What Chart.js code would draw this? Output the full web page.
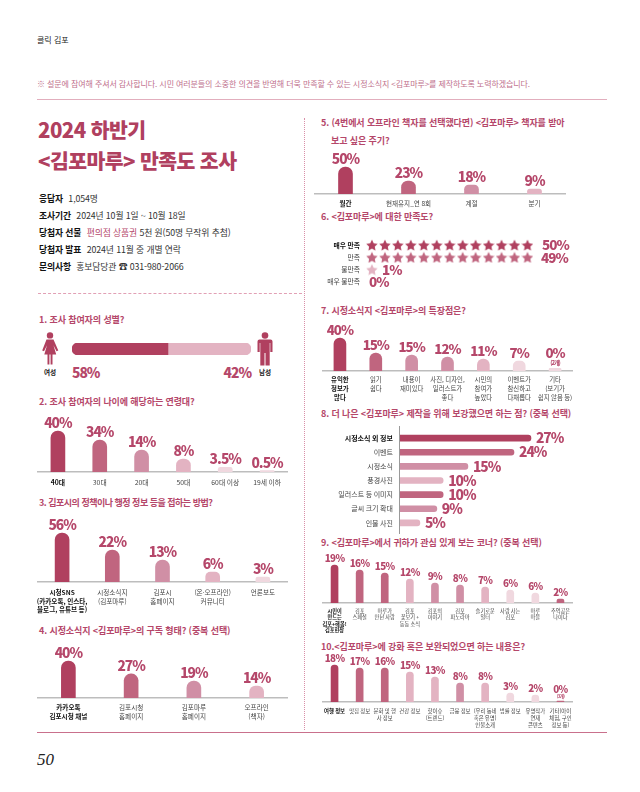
<!DOCTYPE html>
<html lang="ko">
<head>
<meta charset="utf-8">
<title>2024 하반기 김포마루 만족도 조사</title>
<script src="https://cdn.jsdelivr.net/npm/chart.js@4"></script>
<style>
  html, body { margin: 0; padding: 0; background: #fff; }
  #page { position: relative; width: 640px; height: 792px; overflow: hidden;
    font-family: "Noto Sans CJK KR", "Noto Sans", sans-serif; color: #333; }
  #page > * { position: absolute; }
  .t { white-space: nowrap; line-height: 1; }
  .q { font-size: 9px; font-weight: 700; color: #b5476a; letter-spacing: -0.1px; }
  .h1 { font-size: 20.5px; font-weight: 900; color: #b0405f; letter-spacing: -0.6px; }
  .info { font-size: 8.8px; color: #333; letter-spacing: -0.1px; }
  .info b { color: #111; margin-right: 3px; }
  .info em { font-style: normal; color: #b5476a; }
  .pct { font-size: 13.8px; font-weight: 900; color: #b5476a; letter-spacing: -1px; }
  .small { font-size: 6.6px; color: #222; font-weight: 700; transform: translateX(-50%); }
  canvas { display: block; }
</style>
</head>
<body>
<div id="page">
  <div class="t" style="left:37px;top:36px;font-size:8px;color:#222">클릭 김포</div>
  <div class="t" style="left:37px;top:80px;font-size:8px;color:#c0708c;letter-spacing:-0.1px">※ 설문에 참여해 주셔서 감사합니다. 시민 여러분들의 소중한 의견을 반영해 더욱 만족할 수 있는 시정소식지 &lt;김포마루&gt;를 제작하도록 노력하겠습니다.</div>
  <div style="left:37px;top:99px;width:570px;height:1px;background:#e2aebd"></div>

  <div class="t h1" style="left:38px;top:119px">2024 하반기</div>
  <div class="t h1" style="left:38px;top:150px">&lt;김포마루&gt; 만족도 조사</div>

  <div class="t info" style="left:39px;top:195px"><b>응답자</b> 1,054명</div>
  <div class="t info" style="left:39px;top:212px"><b>조사기간</b> 2024년 10월 1일 ~ 10월 18일</div>
  <div class="t info" style="left:39px;top:229px"><b>당첨자 선물</b> <em>편의점 상품권</em> 5천 원(50명 무작위 추첨)</div>
  <div class="t info" style="left:39px;top:246px"><b>당첨자 발표</b> 2024년 11월 중 개별 연락</div>
  <div class="t info" style="left:39px;top:263px"><b>문의사항</b> 홍보담당관 ☎ 031-980-2066</div>

  <div style="left:38px;top:293px;width:264px;border-top:1px dashed #e2a0b5"></div>
  <div style="left:304px;top:118px;height:612px;border-left:1px dotted #d98fa8"></div>
  <div style="left:37px;top:732px;width:570px;height:1px;background:#c9708c"></div>
  <div class="t" style="left:37px;top:750px;font:italic 17px 'Liberation Serif',serif;color:#222">50</div>

  <div class="t q" style="left:39px;top:315px">1. 조사 참여자의 성별?</div>
  <div class="t q" style="left:39px;top:397px">2. 조사 참여자의 나이에 해당하는 연령대?</div>
  <div class="t q" style="left:39px;top:498px;letter-spacing:-0.5px">3. 김포시의 정책이나 행정 정보 등을 접하는 방법?</div>
  <div class="t q" style="left:39px;top:626px">4. 시정소식지 &lt;김포마루&gt;의 구독 형태? (중복 선택)</div>
  <div class="t q" style="left:321px;top:118px">5. (4번에서 오프라인 책자를 선택했다면) &lt;김포마루&gt; 책자를 받아</div>
  <div class="t q" style="left:331px;top:136px">보고 싶은 주기?</div>
  <div class="t q" style="left:321px;top:212px">6. &lt;김포마루&gt;에 대한 만족도?</div>
  <div class="t q" style="left:321px;top:306px">7. 시정소식지 &lt;김포마루&gt;의 특장점은?</div>
  <div class="t q" style="left:321px;top:409px">8. 더 나은 &lt;김포마루&gt; 제작을 위해 보강했으면 하는 점? (중복 선택)</div>
  <div class="t q" style="left:321px;top:538px">9. &lt;김포마루&gt;에서 귀하가 관심 있게 보는 코너? (중복 선택)</div>
  <div class="t q" style="left:321px;top:642px">10.&lt;김포마루&gt;에 강화 혹은 보완되었으면 하는 내용은?</div>

  <!-- gender icons -->
  <svg style="left:41px;top:332px" width="18" height="33" viewBox="0 0 18 33" fill="#b0405f">
    <circle cx="9" cy="3.4" r="3.2"/>
    <path d="M5.5 7.5h7l4.8 11-1.8.8-3-6 2.7 9.2H11.5V32.500H9.6V22.500H8.400V32.500H6.500V22.500H3.300L6 13.300l-3 6-1.800-.8z"/>
  </svg>
  <svg style="left:257px;top:332px" width="16" height="34" viewBox="0 0 16 34" fill="#b0405f">
    <circle cx="8" cy="3.500" r="3.300"/>
    <path d="M2.500 7.500h11q2 0 2 2V20h-2.200V11h-.6v22.500H8.500V21h-1v12.500H3.300V11h-.6v9H.5V9.500q0-2 2-2z"/>
  </svg>
  <div class="t small" style="left:50px;top:369px">여성</div>
  <div class="t small" style="left:265px;top:369px">남성</div>
  <div class="t pct" id="q1Left" style="left:72px;top:366px"></div>
  <div class="t pct" id="q1Right" style="right:389px;top:366px"></div>

  <div style="left:72px;top:343px;width:179px;height:12px"><canvas id="q1"></canvas></div>
  <div style="left:37px;top:410px;width:251px;height:86px"><canvas id="q2"></canvas></div>
  <div style="left:37px;top:512px;width:251px;height:106px"><canvas id="q3"></canvas></div>
  <div style="left:37px;top:638px;width:251px;height:86px"><canvas id="q4"></canvas></div>
  <div style="left:314px;top:146px;width:252px;height:66px"><canvas id="q5"></canvas></div>
  <div style="left:310px;top:232px;width:300px;height:63px"><canvas id="q6"></canvas></div>
  <div style="left:322px;top:316px;width:251px;height:90px"><canvas id="q7"></canvas></div>
  <div style="left:310px;top:426px;width:300px;height:108px"><canvas id="q8"></canvas></div>
  <div style="left:322px;top:553px;width:251px;height:84px"><canvas id="q9"></canvas></div>
  <div style="left:322px;top:652px;width:251px;height:78px"><canvas id="q10"></canvas></div>
</div>

<script>
/* global Chart */
// Printed percentages are the *Pct arrays. The magazine's bars are not drawn
// to true scale, so *Bars holds each bar's length,
// in units of the axis.

const DARK = "#b0405f";
const MID = "#c0657f";
const SOFT = "#d08fa5";
const PALE = "#e3b3c2";
const FAINT = "#f0d8df";
const FONT = '"Noto Sans CJK KR", "Noto Sans", sans-serif';

const q1Pct = [58, 42];
const q1Bars = [53.6, 46.4];

const q2Labels = ["40대", "30대", "20대", "50대", "60대 이상", "19세 이하"];
const q2Pct = ["40%", "34%", "14%", "8%", "3.5%", "0.5%"];
const q2Bars = [40, 31.2, 21.5, 12.7, 4.6, 1.3];

const q3Labels = [
  ["시청SNS", "(카카오톡, 인스타,", "블로그, 유튜브 등)"],
  ["시정소식지", "(김포마루)"],
  ["김포시", "홈페이지"],
  ["(온·오프라인)", "커뮤니티"],
  ["언론보도"],
];
const q3Pct = ["56%", "22%", "13%", "6%", "3%"];
const q3Bars = [56, 36.6, 25, 11.4, 5.7];

const q4Labels = [
  ["카카오톡", "김포시청 채널"],
  ["김포시청", "홈페이지"],
  ["김포마루", "홈페이지"],
  ["오프라인", "(책자)"],
];
const q4Pct = ["40%", "27%", "19%", "14%"];
const q4Bars = [40, 26, 18.4, 13];

const q5Labels = ["월간", "현재유지_연 8회", "계절", "분기"];
const q5Pct = ["50%", "23%", "18%", "9%"];
const q5Bars = [50, 24, 16.7, 9.3];

const q6Labels = ["매우 만족", "만족", "불만족", "매우 불만족"];
const q6Pct = ["50%", "49%", "1%", "0%"];
const q6Stars = [13, 13, 1, 0];

const q7Labels = [
  ["유익한", "정보가", "많다"],
  ["읽기", "쉽다"],
  ["내용이", "재미있다"],
  ["사진, 디자인,", "일러스트가", "좋다"],
  ["시민의", "참여가", "높았다"],
  ["이벤트가", "참신하고", "다채롭다"],
  ["기타", "(보기가", "쉽지 않음 등)"],
];
const q7Pct = ["40%", "15%", "15%", "12%", "11%", "7%", ["0%", "(2개)"]];
const q7Bars = [40, 21.8, 19.4, 17, 14.5, 12.1, 3.2];

const q8Labels = ["시정소식 외 정보", "이벤트", "시정소식", "풍경사진", "일러스트 등 이미지", "글씨 크기 확대", "인물 사진"];
const q8Pct = ["27%", "24%", "15%", "10%", "10%", "9%", "5%"];
const q8Bars = [27, 23.5, 14, 8.9, 8.9, 7.6, 4.1];

const q9Labels = [
  ["시민이", "만드는", "김포+해봄!", "김포현장"],
  ["김포", "스페셜"],
  ["마루가", "만난 사람"],
  ["김포", "꽃보기 +", "동동 소식"],
  ["김포의", "이야기"],
  ["김포", "파노라마"],
  ["슬기로운", "일터"],
  ["사람 사는", "김포"],
  ["마루", "마블"],
  ["추억공은", "나이다"],
];
const q9Pct = ["19%", "16%", "15%", "12%", "9%", "8%", "7%", "6%", "6%", "2%"];
const q9Bars = [19, 16.5, 15, 12, 10, 9, 8, 6.5, 5, 2];

const q10Labels = [
  "여행 정보",
  "맛집 정보",
  ["문화 및 행", "사 정보"],
  "건강 정보",
  ["핫이슈", "(트렌드)"],
  "금융 정보",
  ["(우리 동네", "혹은 유명)", "인물소개"],
  "법률 정보",
  ["유명작가", "연재", "콘텐츠"],
  ["기타(아이", "체험, 구인", "정보 등)"],
];
const q10Pct = ["18%", "17%", "16%", "15%", "13%", "8%", "8%", "3%", "2%", ["0%", "(3개)"]];
const q10Bars = [18, 16.5, 16.5, 14.6, 12.2, 9.2, 9.2, 4.4, 3.4, 0.5];

// Shared bits
const noGrid = () => ({ grid: { display: false, drawTicks: false }, border: { display: false } });
const noPadding = (scale) => {
  scale.paddingLeft = 0;
  scale.paddingRight = 0;
  scale.paddingTop = 0;
  scale.paddingBottom = 0;
};
const base = () => ({
  responsive: true,
  maintainAspectRatio: false,
  animation: false,
  events: [],
  layout: { padding: 0 },
  plugins: { legend: { display: false }, tooltip: { enabled: false }, title: { display: false } },
});

// Draws the printed percentage just past the end of each bar
const valueLabels = (texts, size) => ({
  id: "valueLabels",
  afterDatasetsDraw(chart) {
    const { ctx } = chart;
    const horizontal = chart.options.indexAxis === "y";
    ctx.save();
    ctx.fillStyle = "#b5476a";
    ctx.letterSpacing = size > 12 ? "-1px" : "-0.6px";
    chart.getDatasetMeta(0).data.forEach((el, i) => {
      const lines = [].concat(texts[i]);
      const main = `900 ${size}px ${FONT}`;
      if (horizontal) {
        ctx.font = main;
        ctx.textAlign = "left";
        ctx.textBaseline = "middle";
        ctx.fillText(lines[0], el.x + 5, el.y);
        return;
      }
      ctx.textAlign = "center";
      ctx.textBaseline = "alphabetic";
      if (lines.length > 1) {
        ctx.font = `700 ${size * 0.45}px ${FONT}`;
        ctx.fillText(lines[1], el.x, el.y - 3);
        ctx.font = main;
        ctx.fillText(lines[0], el.x, el.y - 3 - size * 0.55);
      } else {
        ctx.font = main;
        ctx.fillText(lines[0], el.x, el.y - 3);
      }
    });
    ctx.restore();
  },
});

function columnChart(id, labels, bars, pct, colors, s) {
  const canvas = document.getElementById(id);
  const plotH = canvas.parentElement.clientHeight - s.axisH;
  new Chart(canvas, {
    type: "bar",
    data: {
      labels,
      datasets: [{
        data: bars,
        backgroundColor: colors,
        barThickness: s.barW,
        borderRadius: s.barW / 2,
        borderSkipped: "bottom",
      }],
    },
    options: {
      ...base(),
      scales: {
        y: { ...noGrid(), display: false, min: 0, max: plotH / s.pxPerUnit },
        x: {
          grid: { display: false, drawTicks: false },
          border: { display: true, color: "#bdbdbd", width: 1.5 },
          afterFit: (scale) => { scale.height = s.axisH; noPadding(scale); },
          ticks: {
            autoSkip: false,
            maxRotation: 0,
            minRotation: 0,
            padding: s.tickPad,
            color: (c) => (c.index === 0 ? "#111" : "#444"),
            font: (c) => ({
              family: FONT,
              size: s.tickSize,
              weight: c.index === 0 ? "700" : "400",
              lineHeight: s.tickLine,
            }),
          },
        },
      },
    },
    plugins: [valueLabels(pct, s.pctSize)],
  });
}

function initGenderBar() {
  document.getElementById("q1Left").textContent = `${q1Pct[0]}%`;
  document.getElementById("q1Right").textContent = `${q1Pct[1]}%`;
  new Chart(document.getElementById("q1"), {
    type: "bar",
    data: {
      labels: ["성별"],
      datasets: [
        { label: "여성", data: [q1Bars[0]], backgroundColor: DARK, borderSkipped: false,
          borderRadius: { topLeft: 6, bottomLeft: 6, topRight: 0, bottomRight: 0 } },
        { label: "남성", data: [q1Bars[1]], backgroundColor: PALE, borderSkipped: false,
          borderRadius: { topLeft: 0, bottomLeft: 0, topRight: 6, bottomRight: 6 } },
      ],
    },
    options: {
      ...base(),
      indexAxis: "y",
      datasets: { bar: { barPercentage: 1, categoryPercentage: 1 } },
      scales: {
        x: { display: false, stacked: true, min: 0, max: 100 },
        y: { display: false, stacked: true },
      },
    },
  });
}

// Five-point star as a canvas, used as the point style
function starImage(color, size) {
  const c = document.createElement("canvas");
  c.width = size;
  c.height = size;
  const g = c.getContext("2d");
  const r = size / 2;
  g.fillStyle = color;
  g.beginPath();
  for (let i = 0; i < 10; i++) {
    const rad = i % 2 ? r * 0.5 : r;
    const a = -Math.PI / 2 + (i * Math.PI) / 5;
    g.lineTo(r + rad * Math.cos(a), r + 0.6 + rad * Math.sin(a));
  }
  g.closePath();
  g.fill();
  return c;
}

function initStars() {
  const images = [starImage(DARK, 12), starImage(MID, 12), starImage(PALE, 12), starImage(PALE, 12)];
  const points = [];
  q6Stars.forEach((n, row) => {
    for (let i = 0; i < n; i++) points.push({ x: i, y: q6Labels[row], row });
  });
  const textLeft = [542, 541, 382, 369];
  new Chart(document.getElementById("q6"), {
    type: "scatter",
    data: {
      datasets: [{
        data: points,
        pointStyle: (c) => images[c.raw ? c.raw.row : 0],
        pointRadius: 6,
      }],
    },
    options: {
      ...base(),
      scales: {
        x: { display: false, min: -0.92, max: 17.83 },
        y: {
          type: "category",
          labels: q6Labels,
          offset: true,
          ...noGrid(),
          afterFit: (scale) => { scale.width = 50; noPadding(scale); },
          ticks: {
            autoSkip: false,
            padding: 0,
            color: (c) => (c.index === 0 ? "#111" : "#444"),
            font: (c) => ({ family: FONT, size: 6.8, weight: c.index === 0 ? "700" : "400" }),
          },
        },
      },
    },
    plugins: [{
      id: "starPct",
      afterDatasetsDraw(chart) {
        const { ctx, scales } = chart;
        ctx.save();
        ctx.fillStyle = "#b5476a";
        ctx.letterSpacing = "-1px";
        ctx.font = `900 13.5px ${FONT}`;
        ctx.textBaseline = "middle";
        q6Pct.forEach((t, i) => {
          ctx.fillText(t, textLeft[i] - 310, scales.y.getPixelForValue(i));
        });
        ctx.restore();
      },
    }],
  });
}

function initWishBars() {
  new Chart(document.getElementById("q8"), {
    type: "bar",
    data: {
      labels: q8Labels,
      datasets: [{
        data: q8Bars,
        backgroundColor: [DARK, MID, SOFT, PALE, MID, SOFT, PALE],
        barThickness: 6,
        borderRadius: 3,
        borderSkipped: "left",
      }],
    },
    options: {
      ...base(),
      indexAxis: "y",
      layout: { padding: { top: 5, bottom: 4 } },
      scales: {
        x: { display: false, min: 0, max: 210 / 4.85 },
        y: {
          ...noGrid(),
          afterFit: (scale) => { scale.width = 90; noPadding(scale); },
          ticks: {
            autoSkip: false,
            padding: 7,
            color: (c) => (c.index === 0 ? "#111" : "#444"),
            font: (c) => ({ family: FONT, size: 7, weight: c.index === 0 ? "700" : "400" }),
          },
        },
      },
    },
    plugins: [
      valueLabels(q8Pct, 13.8),
      {
        id: "axisLine",
        afterDraw(chart) {
          const { ctx, chartArea, height } = chart;
          ctx.save();
          ctx.strokeStyle = "#9a9a9a";
          ctx.lineWidth = 1;
          ctx.beginPath();
          ctx.moveTo(chartArea.left - 0.5, 0);
          ctx.lineTo(chartArea.left - 0.5, height);
          ctx.stroke();
          ctx.restore();
        },
      },
    ],
  });
}

initGenderBar();
columnChart("q2", q2Labels, q2Bars, q2Pct, [DARK, MID, SOFT, PALE, FAINT, FAINT],
  { axisH: 24, barW: 14, pxPerUnit: 1.025, tickSize: 6.8, tickLine: 1.2, tickPad: 6, pctSize: 13.8 });
columnChart("q3", q3Labels, q3Bars, q3Pct, [DARK, MID, SOFT, PALE, FAINT],
  { axisH: 36, barW: 14, pxPerUnit: 0.875, tickSize: 6.6, tickLine: 1.32, tickPad: 6, pctSize: 13.8 });
columnChart("q4", q4Labels, q4Bars, q4Pct, [DARK, MID, SOFT, PALE],
  { axisH: 26, barW: 14, pxPerUnit: 0.925, tickSize: 6.6, tickLine: 1.32, tickPad: 5, pctSize: 13.8 });
columnChart("q5", q5Labels, q5Bars, q5Pct, [DARK, MID, SOFT, PALE],
  { axisH: 18, barW: 14, pxPerUnit: 0.54, tickSize: 6.6, tickLine: 1.2, tickPad: 6, pctSize: 13.8 });
initStars();
columnChart("q7", q7Labels, q7Bars, q7Pct, [DARK, MID, SOFT, SOFT, PALE, FAINT, FAINT],
  { axisH: 35, barW: 12, pxPerUnit: 0.825, tickSize: 6.4, tickLine: 1.38, tickPad: 4, pctSize: 13.3 });
initWishBars();
columnChart("q9", q9Labels, q9Bars, q9Pct, [DARK, MID, MID, PALE, SOFT, SOFT, PALE, FAINT, FAINT, MID],
  { axisH: 34, barW: 7, pxPerUnit: 2, tickSize: 5.2, tickLine: 1.22, tickPad: 5, pctSize: 9.8 });
columnChart("q10", q10Labels, q10Bars, q10Pct, [DARK, MID, MID, PALE, PALE, SOFT, PALE, FAINT, FAINT, MID],
  { axisH: 28, barW: 7, pxPerUnit: 2.05, tickSize: 5.4, tickLine: 1.22, tickPad: 6, pctSize: 9.8 });
</script>
</body>
</html>
